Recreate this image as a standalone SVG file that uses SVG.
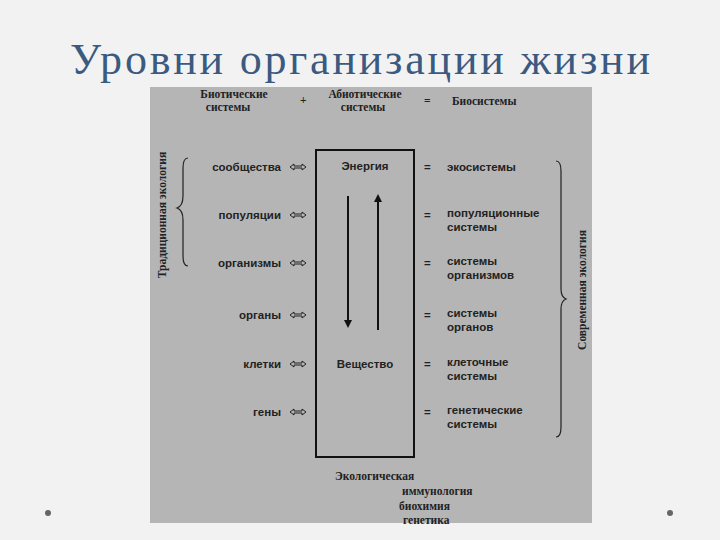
<svg xmlns="http://www.w3.org/2000/svg" width="720" height="540" viewBox="0 0 720 540">
<style>
.s{font-family:"Liberation Sans",Arial,sans-serif;font-size:11.5px;font-weight:bold;fill:#222}
.t{font-family:"Liberation Serif","Times New Roman",serif;font-size:11.5px;font-weight:bold;fill:#222}
.r{text-anchor:end}
.ln{stroke:#111;stroke-width:2;fill:none}
</style>
<defs>
<marker id="ah" markerWidth="8" markerHeight="8" refX="4" refY="4" orient="auto" markerUnits="userSpaceOnUse"><path d="M0,0 L8,4 L0,8 Z" fill="#111"/></marker>
<g id="da"><path d="M0,0 l4,-3 v2 h8 v-2 l4,3 l-4,3 v-2 h-8 v2 z" fill="none" stroke="#222" stroke-width="1"/></g>
</defs>
<rect width="720" height="540" fill="#f2f2f2"/>
<text x="70" y="74" font-family="Liberation Serif,serif" font-size="44" fill="#3b5a80" textLength="580" lengthAdjust="spacing">Уровни организации жизни</text>
<circle cx="48" cy="513" r="3" fill="#666"/><circle cx="670" cy="513" r="3" fill="#666"/>
<rect x="150" y="87" width="442" height="436" fill="#b5b5b5"/>
<g id="header">
<text class="t" x="234" y="98" text-anchor="middle">Биотические</text>
<text class="t" x="228" y="111" text-anchor="middle">системы</text>
<text class="t" x="300" y="104">+</text>
<text class="t" x="365" y="98" text-anchor="middle">Абиотические</text>
<text class="t" x="363" y="111" text-anchor="middle">системы</text>
<text class="t" x="424" y="105">=</text>
<text class="t" x="452" y="105">Биосистемы</text>
</g>
<g id="box"><rect x="316" y="150" width="98" height="307" class="ln"/>
<text class="s" x="365" y="170" text-anchor="middle">Энергия</text>
<text class="s" x="365" y="368" text-anchor="middle">Вещество</text></g>
<g id="connectors">
<line x1="348" y1="196" x2="348" y2="324" class="ln" marker-end="url(#ah)"/>
<line x1="378" y1="330" x2="378" y2="198" class="ln" marker-end="url(#ah)"/>
<use href="#da" x="290" y="167"/><use href="#da" x="290" y="215"/><use href="#da" x="290" y="263"/>
<use href="#da" x="290" y="315"/><use href="#da" x="290" y="364"/><use href="#da" x="290" y="412"/>
<path d="M188,158 q-5,0 -5,10 v28 q0,10 -6,12 q6,2 6,12 v36 q0,10 5,10" fill="none" stroke="#222" stroke-width="1.2"/>
<path d="M556,161 q5,0 5,10 v118 q0,8 5,10 q-5,2 -5,10 v118 q0,10 -5,10" fill="none" stroke="#222" stroke-width="1.2"/>
</g>
<g id="left">
<text class="s r" x="281" y="171">сообщества</text>
<text class="s r" x="281" y="219">популяции</text>
<text class="s r" x="281" y="267">организмы</text>
<text class="s r" x="281" y="319">органы</text>
<text class="s r" x="281" y="368">клетки</text>
<text class="s r" x="281" y="416">гены</text>
</g>
<g id="right">
<text class="s" x="424" y="171">=</text><text class="s" x="447" y="171">экосистемы</text>
<text class="s" x="424" y="219">=</text><text class="s" x="447" y="217">популяционные</text><text class="s" x="447" y="231">системы</text>
<text class="s" x="424" y="267">=</text><text class="s" x="447" y="265">системы</text><text class="s" x="447" y="279">организмов</text>
<text class="s" x="424" y="319">=</text><text class="s" x="447" y="317">системы</text><text class="s" x="447" y="331">органов</text>
<text class="s" x="424" y="368">=</text><text class="s" x="447" y="366">клеточные</text><text class="s" x="447" y="380">системы</text>
<text class="s" x="424" y="416">=</text><text class="s" x="447" y="414">генетические</text><text class="s" x="447" y="428">системы</text>
</g>
<g id="side">
<text class="t" font-weight="normal" transform="translate(166,215) rotate(-90)" text-anchor="middle">Традиционная экология</text>
<text class="t" font-weight="normal" transform="translate(586,290) rotate(-90)" text-anchor="middle">Современная экология</text>
</g>
<g id="bottom">
<text class="t" x="335" y="480">Экологическая</text>
<text class="t" x="402" y="495">иммунология</text>
<text class="t" x="399" y="510">биохимия</text>
<text class="t" x="403" y="524">генетика</text>
</g>
</svg>
